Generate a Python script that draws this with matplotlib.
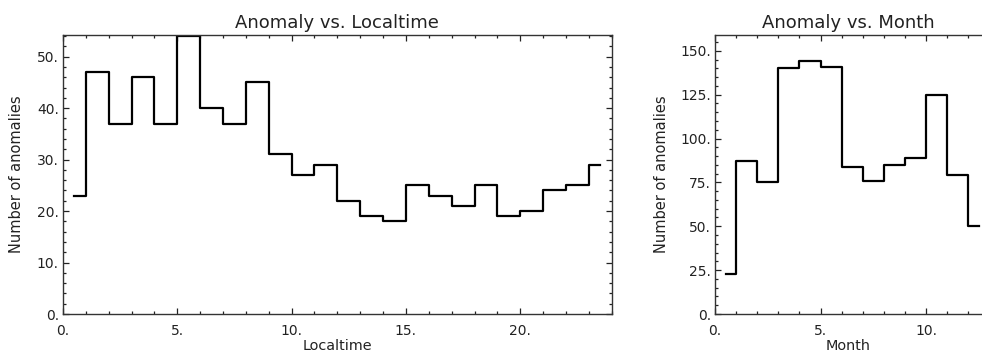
import numpy as np
import matplotlib
matplotlib.use('Agg')
import matplotlib.pyplot as plt
from matplotlib.ticker import MultipleLocator, FuncFormatter

# anomaly counts per local-time hour (bin centres at half hours)
hour_centers = np.arange(0.5, 24, 1.0)
hour_counts = [23, 47, 37, 46, 37, 54, 40, 37, 45, 31, 27, 29,
               22, 19, 18, 25, 23, 21, 25, 19, 20, 24, 25, 29]

# anomaly counts per month
month_centers = np.arange(0.5, 13, 1.0)
month_counts = [23, 87, 75, 140, 144, 141, 84, 76, 85, 89, 125, 79, 50]

plt.rcParams['font.family'] = 'DejaVu Sans'
plt.rcParams['font.size'] = 10
TXT = '#222222'


def idl_style(ax, xmajor, xminor, ymajor, yminor):
    # box with inward ticks on all sides, IDL style "5." labels
    ax.xaxis.set_major_locator(MultipleLocator(xmajor))
    ax.xaxis.set_minor_locator(MultipleLocator(xminor))
    ax.yaxis.set_major_locator(MultipleLocator(ymajor))
    ax.yaxis.set_minor_locator(MultipleLocator(yminor))
    fmt = FuncFormatter(lambda v, p: '%g.' % v)
    ax.xaxis.set_major_formatter(fmt)
    ax.yaxis.set_major_formatter(fmt)
    ax.tick_params(which='both', direction='in', top=True, right=True,
                   width=0.9, colors='#222222', labelcolor=TXT)
    ax.tick_params(which='major', length=4.3)
    ax.tick_params(which='minor', length=2.2)
    ax.tick_params(axis='x', which='major', pad=7)
    ax.tick_params(axis='y', which='major', pad=3)
    for s in ax.spines.values():
        s.set_linewidth(1.0)
        s.set_color('#333333')


fig = plt.figure(figsize=(9.82, 3.56), dpi=100)

ax1 = fig.add_axes([63 / 982, 42 / 356, (611.7 - 63) / 982, 279 / 356])
ax1.step(hour_centers, hour_counts, where='mid', color='black', lw=1.6)
ax1.set_xlim(0, 24)
ax1.set_ylim(0, 54.2)
idl_style(ax1, 5, 1, 10, 2)
ax1.set_title('Anomaly vs. Localtime', pad=5, color=TXT, fontsize=13)
ax1.set_xlabel('Localtime', labelpad=1, color=TXT, fontsize=10.4)
ax1.set_ylabel('Number of anomalies', labelpad=9, color=TXT, fontsize=10.5)

# right panel runs off the edge of the picture, so its right side is not shown
ax2 = fig.add_axes([715 / 982, 42 / 356, (982 - 715) / 982, 279 / 356])
ax2.step(month_centers, month_counts, where='mid', color='black', lw=1.6)
ax2.set_xlim(0, 12.65)
ax2.set_ylim(0, 159)
idl_style(ax2, 5, 1, 25, 5)
ax2.spines['right'].set_visible(False)
ax2.tick_params(which='both', right=False)
ax2.set_title('Anomaly vs. Month', pad=5, color=TXT, fontsize=13)
ax2.set_xlabel('Month', labelpad=1, color=TXT, fontsize=10.4)
ax2.set_ylabel('Number of anomalies', labelpad=8, color=TXT, fontsize=10.5)

fig.savefig('out.png', dpi=100)
